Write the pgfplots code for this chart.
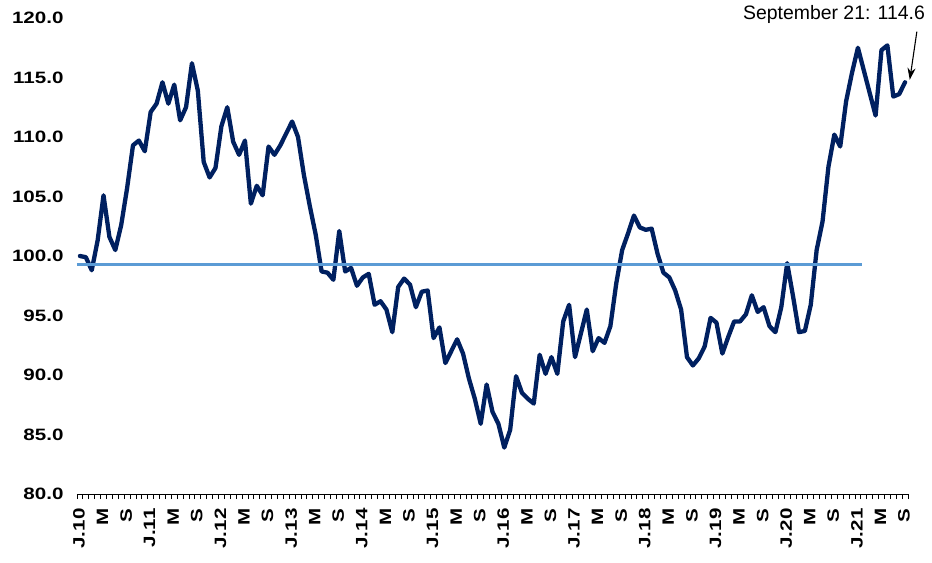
\documentclass[border=0pt]{standalone}
\usepackage{fontspec}
\setmainfont{Liberation Sans}
\newfontfamily\tickfont[FakeStretch=1.25]{Liberation Sans}
\usepackage{pgfplots}
\usepackage{pgfplotstable}
\pgfplotsset{compat=1.18}
\usetikzlibrary{arrows.meta}
\definecolor{navy}{HTML}{002060}
\definecolor{avgblue}{HTML}{5B9BD5}
\pgfplotstableread{
x y
0 100.0
1 99.9
2 98.8
3 101.3
4 105.1
5 101.6
6 100.5
7 102.6
8 105.7
9 109.3
10 109.7
11 108.8
12 112.1
13 112.8
14 114.6
15 112.8
16 114.4
17 111.4
18 112.5
19 116.2
20 113.9
21 107.9
22 106.6
23 107.4
24 110.9
25 112.5
26 109.6
27 108.5
28 109.7
29 104.4
30 105.9
31 105.1
32 109.2
33 108.5
34 109.3
35 110.3
36 111.3
37 110.0
38 106.8
39 104.2
40 101.8
41 98.7
42 98.6
43 98.0
44 102.1
45 98.7
46 99.0
47 97.5
48 98.2
49 98.5
50 95.9
51 96.2
52 95.5
53 93.6
54 97.4
55 98.1
56 97.6
57 95.7
58 97.0
59 97.1
60 93.1
61 94.0
62 91.0
63 92.0
64 93.0
65 91.8
66 89.7
67 88.0
68 85.9
69 89.2
70 86.9
71 85.9
72 83.9
73 85.4
74 89.9
75 88.5
76 88.0
77 87.6
78 91.7
79 90.1
80 91.5
81 90.1
82 94.5
83 95.9
84 91.5
85 93.5
86 95.5
87 92.0
88 93.1
89 92.7
90 94.1
91 97.7
92 100.5
93 101.9
94 103.4
95 102.4
96 102.2
97 102.3
98 100.2
99 98.6
100 98.2
101 97.1
102 95.5
103 91.5
104 90.8
105 91.4
106 92.4
107 94.8
108 94.4
109 91.8
110 93.2
111 94.5
112 94.5
113 95.1
114 96.7
115 95.3
116 95.7
117 94.1
118 93.6
119 95.7
120 99.4
121 96.6
122 93.6
123 93.7
124 95.9
125 100.5
126 102.9
127 107.5
128 110.2
129 109.2
130 113.0
131 115.4
132 117.5
133 115.6
134 113.7
135 111.8
136 117.3
137 117.7
138 113.4
139 113.6
140 114.6
}\datatable
\begin{document}
\begin{tikzpicture}
\useasboundingbox (-77bp,-69bp) rectangle (855bp,494bp);
\begin{axis}[
  at={(0,0)}, anchor=south west,
  scale only axis, width=831bp, height=476bp,
  xmin=-0.5, xmax=140.5, ymin=80, ymax=120,
  clip=false,
  axis x line*=bottom, axis y line*=left,
  y axis line style={draw=none},
  x axis line style={black, line width=0.9bp},
  /pgf/number format/assume math mode=true,
  ytick={80,85,...,120},
  ytick style={draw=none},
  yticklabel style={font=\tickfont\bfseries\fontsize{16.5}{16.5}\selectfont,
    /pgf/number format/fixed, /pgf/number format/fixed zerofill,
    /pgf/number format/precision=1, xshift=-10bp},
  xtick={0,4,...,140},
  xticklabels={J.10,M,S,J.11,M,S,J.12,M,S,J.13,M,S,J.14,M,S,J.15,M,S,J.16,M,S,J.17,M,S,J.18,M,S,J.19,M,S,J.20,M,S,J.21,M,S},
  minor xtick={-0.5,0.5,...,140.5},
  tick align=outside,
  major tick length=0pt,
  minor tick length=5bp,
  minor tick style={black, line width=0.8bp},
  xticklabel style={rotate=90, anchor=east, font=\tickfont\bfseries\fontsize{16.5}{16.5}\selectfont, xshift=-11bp, yshift=1bp},
]
\addplot[navy, line width=4.3bp, line join=round, line cap=round] table[x=x,y=y] {\datatable};
\addplot[avgblue, line width=2.8bp] coordinates {(-0.5,99.3) (132.7,99.3)};
\node[anchor=east, font=\fontsize{19.5}{19.5}\selectfont, inner sep=0pt] at (axis cs:143.4,120.3) {September 21: 114.6};
\draw[black, line width=1.1bp, -{Stealth[length=12bp,width=8bp]}] (axis cs:142.0,118.85) -- (axis cs:140.8,114.8);
\end{axis}
\end{tikzpicture}
\end{document}
